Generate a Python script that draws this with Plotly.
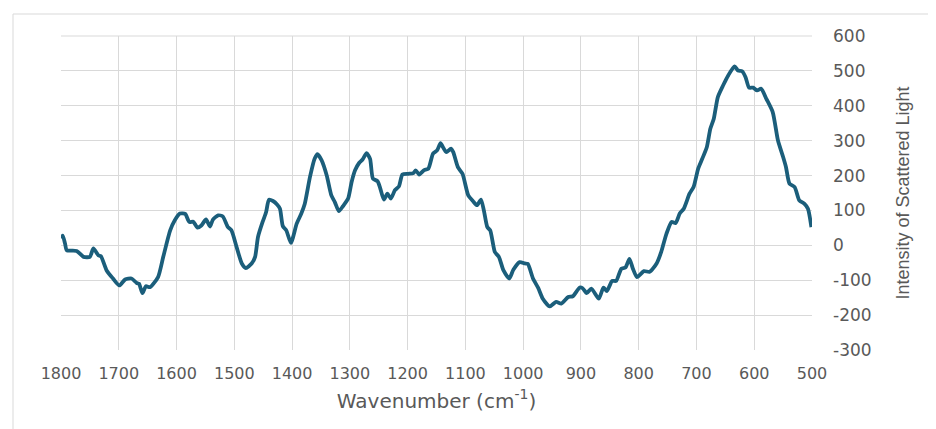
import plotly.graph_objects as go

wavenumber = [1800, 1797, 1793, 1790, 1773, 1761, 1750, 1744, 1735, 1731, 1721, 1710, 1699, 1689, 1678,
              1669, 1665, 1659, 1653, 1646, 1632, 1623, 1611, 1603, 1594, 1585, 1578, 1571, 1564, 1557,
              1549, 1542, 1537, 1528, 1520, 1511, 1505, 1496, 1487, 1480, 1470, 1464, 1459, 1451, 1445,
              1440, 1433, 1426, 1421, 1416, 1410, 1402, 1392, 1384, 1378, 1369, 1361, 1356, 1349, 1340,
              1332, 1326, 1319, 1312, 1303, 1297, 1291, 1284, 1278, 1271, 1265, 1260, 1252, 1248, 1241,
              1235, 1229, 1222, 1215, 1209, 1199, 1190, 1186, 1180, 1172, 1164, 1156, 1149, 1143, 1139,
              1133, 1125, 1121, 1113, 1105, 1095, 1087, 1080, 1073, 1068, 1062, 1057, 1049, 1042, 1034,
              1024, 1017, 1006, 997, 992, 983, 974, 966, 954, 943, 934, 922, 914, 902, 897,
              890, 882, 869, 861, 855, 846, 839, 830, 823, 816, 810, 803, 791, 781, 769,
              761, 752, 743, 736, 729, 722, 712, 705, 697, 690, 682, 676, 670, 663, 654,
              645, 634, 628, 621, 615, 609, 602, 595, 588, 579, 568, 559, 550, 545, 539,
              530, 522, 513, 507, 501]
intensity = [20, 28, 5, -14, -16, -33, -33, -9, -29, -31, -72, -95, -115, -98, -95,
             -108, -110, -137, -117, -120, -91, -33, 43, 72, 91, 90, 67, 68, 51, 57,
             74, 54, 74, 86, 83, 52, 43, -5, -52, -65, -52, -33, 24, 67, 95,
             131, 127, 117, 105, 55, 43, 7, 62, 91, 119, 196, 248, 261, 244, 200,
             143, 124, 98, 112, 134, 181, 215, 236, 246, 264, 248, 191, 184, 167, 131,
             148, 134, 158, 169, 203, 205, 207, 215, 203, 215, 220, 263, 272, 293, 282,
             267, 277, 267, 224, 205, 143, 127, 115, 131, 100, 52, 43, -19, -33, -72,
             -95, -70, -48, -52, -53, -95, -122, -153, -175, -162, -167, -148, -146, -121, -123,
             -137, -124, -153, -121, -131, -102, -102, -67, -64, -39, -67, -91, -74, -76, -52,
             -19, 33, 67, 64, 91, 105, 148, 167, 220, 248, 282, 334, 363, 425, 458,
             487, 513, 501, 499, 482, 452, 452, 444, 449, 420, 382, 301, 253, 224, 177,
             167, 129, 119, 105, 52]

x_ticks = list(range(1800, 499, -100))
x_labels = [str(v) for v in x_ticks]
y_ticks = list(range(-300, 601, 100))
y_labels = [str(v) for v in y_ticks]

grid = "#d9d9d9"
x_tick_font = dict(family="DejaVu Sans", size=16, color="#595959")
y_tick_font = dict(family="DejaVu Sans", size=17, color="#595959")

W, H = 928, 421
L, T = 53, 28
PW, PH = 751, 314

fig = go.Figure()
fig.add_trace(go.Scatter(
    x=wavenumber, y=intensity, mode="lines",
    line=dict(color="#1b5e7b", width=3.8, shape="spline", smoothing=0.6),
    showlegend=False, hoverinfo="skip",
))

bx = -48 / PW          # outer border left (page x ~5)
by = (PH + 22) / PH    # outer border top (page y ~14)

fig.update_layout(
    width=W, height=H,
    margin=dict(l=L, r=W - L - PW, t=T, b=H - T - PH),
    paper_bgcolor="white", plot_bgcolor="white",
    xaxis=dict(
        range=[1800, 500], tickvals=x_ticks, ticktext=x_labels,
        showgrid=True, gridcolor=grid, gridwidth=1, zeroline=False,
        showline=False, ticks="", tickfont=x_tick_font, ticklabelstandoff=12,
        title=dict(text="Wavenumber (cm<sup>-1</sup>)",
                   font=dict(family="DejaVu Sans", size=20, color="#595959"), standoff=11),
    ),
    yaxis=dict(
        range=[-300, 600], tickvals=y_ticks, ticktext=y_labels, side="right",
        showgrid=True, gridcolor=grid, gridwidth=1, zeroline=False,
        showline=False, ticks="", tickfont=y_tick_font, ticklabelstandoff=20,
        title=dict(text="Intensity of Scattered Light",
                   font=dict(family="Liberation Sans Narrow, Liberation Sans", size=18, color="#595959"),
                   standoff=25),
    ),
    shapes=[
        dict(type="line", xref="paper", yref="paper",
             x0=bx, x1=1.3, y0=by, y1=by,
             line=dict(color="#d9d9d9", width=1)),
        dict(type="line", xref="paper", yref="paper",
             x0=bx, x1=bx, y0=by, y1=-0.4,
             line=dict(color="#d9d9d9", width=1)),
        dict(type="line", xref="paper", yref="paper",
             x0=0, x1=1, y0=1, y1=1, line=dict(color=grid, width=1)),
    ],
)

fig.write_html("out.html")
